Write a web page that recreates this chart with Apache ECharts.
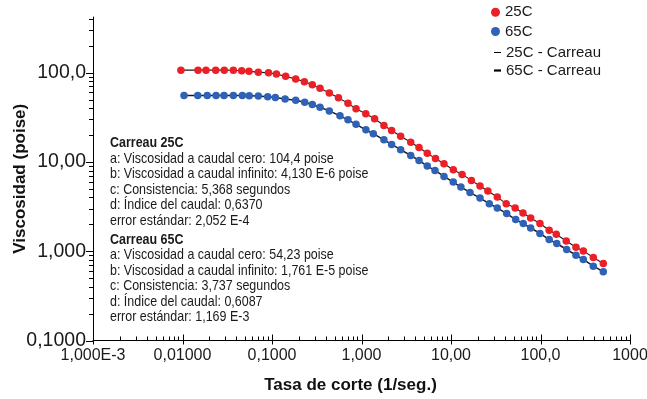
<!DOCTYPE html>
<html><head><meta charset="utf-8">
<script src="https://cdn.jsdelivr.net/npm/echarts@6/dist/echarts.min.js"></script>
<style>html,body{margin:0;padding:0;background:#fff}#c{width:647px;height:399px}</style>
</head><body><div id="c"></div>
<script>
// ---- data ----
const shear25 = [0.0096, 0.0149, 0.0183, 0.0235, 0.0293, 0.0370, 0.0458, 0.0553, 0.0703, 0.0914, 0.112, 0.142, 0.184, 0.230, 0.282, 0.344, 0.437, 0.553, 0.706, 0.869, 1.117, 1.40, 1.78, 2.17, 2.74, 3.55, 4.39, 5.43, 6.71, 8.35, 10.6, 13.3, 16.9, 21.1, 25.8, 32.9, 41.4, 52.1, 63.7, 77.6, 98.6, 125, 150, 194, 249, 301, 389, 503];
const visc25 = [106.6, 106.6, 106.6, 106.6, 106.6, 106.2, 105.2, 103.4, 101.3, 99.5, 96.5, 90.9, 85.0, 79.3, 73.4, 66.8, 59.3, 52.2, 45.4, 39.3, 34.6, 30.4, 25.6, 22.5, 19.4, 16.6, 14.5, 12.5, 10.9, 9.55, 8.18, 7.25, 6.21, 5.37, 4.72, 4.04, 3.41, 3.05, 2.68, 2.36, 2.04, 1.72, 1.55, 1.30, 1.108, 1.008, 0.850, 0.729];
const shear65 = [0.0104, 0.0148, 0.0189, 0.0237, 0.0291, 0.0370, 0.0466, 0.0557, 0.0703, 0.0895, 0.109, 0.140, 0.184, 0.232, 0.282, 0.344, 0.437, 0.575, 0.706, 0.869, 1.12, 1.355, 1.78, 2.17, 2.74, 3.55, 4.39, 5.43, 6.62, 8.35, 10.6, 12.9, 16.3, 21.1, 26.8, 32.9, 41.9, 52.8, 64.2, 77.6, 98.6, 125, 152, 196, 249, 301, 389, 503];
const visc65 = [55.3, 55.3, 55.3, 55.3, 55.6, 55.3, 55.3, 55.2, 54.9, 53.6, 52.8, 50.8, 49.0, 46.6, 43.9, 41.0, 37.3, 32.8, 29.6, 26.4, 22.9, 20.7, 17.7, 15.7, 13.7, 11.8, 10.4, 8.98, 8.04, 6.89, 5.95, 5.23, 4.56, 3.94, 3.41, 3.05, 2.64, 2.26, 2.04, 1.82, 1.58, 1.35, 1.22, 1.045, 0.902, 0.808, 0.680, 0.590];

const xTickLabels = ['1,000E-3', '0,01000', '0,1000', '1,000', '10,00', '100,0', '1000'];
const yTickLabels = ['0,1000', '1,000', '10,00', '100,0'];
const minorMultipliers = [2, 3, 4, 5, 6, 7, 8, 9];

const seriesNames = ['25C', '65C', '25C - Carreau', '65C - Carreau'];
const notes25 = ['Carreau 25C', 'a: Viscosidad a caudal cero: 104,4 poise', 'b: Viscosidad a caudal infinito: 4,130 E-6 poise', 'c: Consistencia: 5,368 segundos', 'd: Índice del caudal: 0,6370', 'error estándar: 2,052 E-4'];
const notes65 = ['Carreau 65C', 'a: Viscosidad a caudal cero: 54,23 poise', 'b: Viscosidad a caudal infinito: 1,761 E-5 poise', 'c: Consistencia: 3,737 segundos', 'd: Índice del caudal: 0,6087', 'error estándar: 1,169 E-3'];

// ---- build ----
const X_MIN = 0.001, X_MAX = 1000, Y_MIN = 0.1, Y_MAX = 420;
const RED = '#ec1f26', BLUE = '#2f62b6';
const LABEL_FONT = '"Liberation Sans", Arial, sans-serif';

const xTicks = [], yTicks = [];
for (let e = -3; e <= 3; e++) {
  xTicks.push([Math.pow(10, e), Y_MIN, 1]);
  if (e < 3) minorMultipliers.forEach(m => xTicks.push([m * Math.pow(10, e), Y_MIN, 0]));
}
for (let e = -1; e <= 2; e++) {
  yTicks.push([X_MIN, Math.pow(10, e), 1]);
  minorMultipliers.forEach(m => { const v = m * Math.pow(10, e); if (v <= Y_MAX) yTicks.push([X_MIN, v, 0]); });
}
const zip = (a, b) => a.map((v, i) => [v, b[i]]);
const decadeIndex = v => { const l = Math.log10(v); const e = Math.round(l); return Math.abs(l - e) < 1e-6 ? e : null; };

const chart = echarts.init(document.getElementById('c'), null, { renderer: 'canvas' });

const noteText = (lines, y0) => lines.map((t, i) => ({
  type: 'text', x: 110, y: y0 + i * 15.5, scaleX: 0.86, silent: true,
  style: { text: t, fontFamily: LABEL_FONT, fontSize: 14.5, fontWeight: i === 0 ? 'bold' : 'normal', fill: '#1a1a1a', verticalAlign: 'middle', align: 'left' }
}));

const legendBase = (name, icon, left, cy, w, h) => ({
  data: [{ name: name, icon: icon }], left: left, top: cy - 8, orient: 'vertical',
  itemWidth: w, itemHeight: h, padding: 0, selectedMode: false,
  textStyle: { fontSize: 15, fontFamily: LABEL_FONT, color: '#1a1a1a', lineHeight: 16 }
});

chart.setOption({
  animation: false,
  backgroundColor: '#fff',
  grid: { left: 93, right: 17, top: 17, bottom: 58.5, containLabel: false, outerBoundsMode: 'none' },
  legend: [
    legendBase('25C', 'circle', 491, 12.3, 9, 9),
    legendBase('65C', 'circle', 491, 31.5, 9, 9),
    legendBase('25C - Carreau', 'rect', 494, 52.5, 7, 1),
    legendBase('65C - Carreau', 'rect', 494, 70.5, 7, 2.2)
  ],
  xAxis: {
    type: 'log', logBase: 10, min: X_MIN, max: X_MAX,
    axisLine: { show: true, lineStyle: { color: '#000', width: 1 } },
    axisTick: { show: false }, splitLine: { show: false }, minorTick: { show: false },
    axisLabel: {
      margin: 7, fontSize: 16, color: '#1a1a1a', fontFamily: LABEL_FONT, hideOverlap: false,
      formatter: v => { const e = decadeIndex(v); return e === null ? '' : (xTickLabels[e + 3] || ''); }
    },
    name: 'Tasa de corte (1/seg.)', nameLocation: 'middle', nameGap: 36, nameMoveOverlap: false,
    nameTextStyle: { fontFamily: LABEL_FONT, fontWeight: 'bold', fontSize: 17, color: '#111', padding: [0, 22, 0, 0] }
  },
  yAxis: {
    type: 'log', logBase: 10, min: Y_MIN, max: Y_MAX,
    axisLine: { show: true, lineStyle: { color: '#000', width: 1 } },
    axisTick: { show: false }, splitLine: { show: false }, minorTick: { show: false },
    axisLabel: {
      margin: 7, fontSize: 19.5, color: '#1a1a1a', fontFamily: LABEL_FONT, showMaxLabel: false,
      formatter: v => { const e = decadeIndex(v); return e === null ? '' : (yTickLabels[e + 1] || ''); }
    },
    name: 'Viscosidad (poise)', nameLocation: 'middle', nameGap: 64, nameRotate: 90, nameMoveOverlap: false,
    nameTextStyle: { fontFamily: LABEL_FONT, fontWeight: 'bold', fontSize: 17, color: '#111' }
  },
  graphic: [].concat(noteText(notes25, 143.3), noteText(notes65, 239.5)),
  series: [
    {
      type: 'custom', name: 'xticks', silent: true, z: 5, clip: false,
      data: xTicks,
      renderItem: (params, api) => {
        const p = api.coord([api.value(0), api.value(1)]);
        const major = api.value(2) === 1;
        const x = Math.round(p[0]) + 0.5;
        return { type: 'line', shape: { x1: x, y1: p[1] + (major ? 4 : 0), x2: x, y2: p[1] - (major ? 6 : 4) }, style: { stroke: '#000', lineWidth: 1 } };
      }
    },
    {
      type: 'custom', name: 'yticks', silent: true, z: 5, clip: false,
      data: yTicks,
      renderItem: (params, api) => {
        const p = api.coord([api.value(0), api.value(1)]);
        const major = api.value(2) === 1;
        const y = Math.round(p[1]) + 0.5;
        return { type: 'line', shape: { x1: p[0] - (major ? 7 : 4), y1: y, x2: p[0], y2: y }, style: { stroke: '#000', lineWidth: 1 } };
      }
    },
    {
      type: 'line', name: seriesNames[2], data: zip(shear25, visc25), showSymbol: false, z: 2,
      color: '#000', itemStyle: { color: '#000' }, lineStyle: { color: '#1a1a1a', width: 1.1 }
    },
    {
      type: 'line', name: seriesNames[3], data: zip(shear65, visc65), showSymbol: false, z: 2,
      color: '#000', itemStyle: { color: '#000' }, lineStyle: { color: '#1a1a1a', width: 1.5 }
    },
    {
      type: 'scatter', name: seriesNames[0], data: zip(shear25, visc25), symbol: 'circle', symbolSize: 7.5, z: 3,
      itemStyle: { color: RED, opacity: 1 }
    },
    {
      type: 'scatter', name: seriesNames[1], data: zip(shear65, visc65), symbol: 'circle', symbolSize: 7.5, z: 3,
      itemStyle: { color: BLUE, opacity: 1 }
    }
  ]
});
</script>
</body></html>
